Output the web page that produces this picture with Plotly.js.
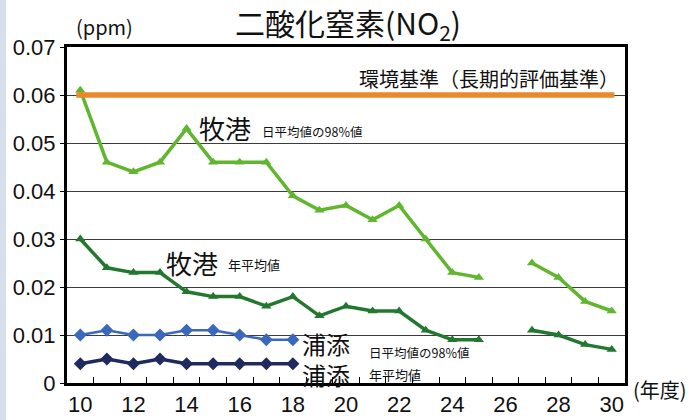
<!DOCTYPE html>
<html>
<head>
<meta charset="utf-8">
<script src="https://cdn.plot.ly/plotly-3.0.1.min.js"></script>
<style>
  html, body { margin: 0; padding: 0; background: #ffffff; }
  #chart { width: 695px; height: 420px; }
</style>
</head>
<body>
<div id="chart"></div>
<script>
// ---- data ----
const years = [10, 11, 12, 13, 14, 15, 16, 17, 18, 19, 20, 21, 22, 23, 24, 25, 26, 27, 28, 29, 30];
const makiminatoDaily98 = [0.061, 0.046, 0.044, 0.046, 0.053, 0.046, 0.046, 0.046, 0.039, 0.036, 0.037, 0.034, 0.037, 0.030, 0.023, 0.022, null, 0.025, 0.022, 0.017, 0.015];
const makiminatoAnnual = [0.030, 0.024, 0.023, 0.023, 0.019, 0.018, 0.018, 0.016, 0.018, 0.014, 0.016, 0.015, 0.015, 0.011, 0.009, 0.009, null, 0.011, 0.010, 0.008, 0.007];
const urasoeYears = [10, 11, 12, 13, 14, 15, 16, 17, 18];
const urasoeDaily98 = [0.010, 0.011, 0.010, 0.010, 0.011, 0.011, 0.010, 0.009, 0.009];
const urasoeAnnual = [0.004, 0.005, 0.004, 0.005, 0.004, 0.004, 0.004, 0.004, 0.004];
const envStandard = 0.06;
const xTickVals = [10, 12, 14, 16, 18, 20, 22, 24, 26, 28, 30];
const xTickText = ['10', '12', '14', '16', '18', '20', '22', '24', '26', '28', '30'];
const yTickVals = [0, 0.01, 0.02, 0.03, 0.04, 0.05, 0.06, 0.07];
const yTickText = ['0', '0.01', '0.02', '0.03', '0.04', '0.05', '0.06', '0.07'];
const halfYearTicks = [10.5, 11.5, 12.5, 13.5, 14.5, 15.5, 16.5, 17.5, 18.5, 19.5, 20.5, 21.5, 22.5, 23.5, 24.5, 25.5, 26.5, 27.5, 28.5, 29.5];

const JP = '"Noto Sans CJK JP", "Noto Sans", sans-serif';
const NUM = '"Liberation Sans", Arial, sans-serif';

const traces = [
  {
    x: years, y: makiminatoDaily98, type: 'scatter', mode: 'lines+markers',
    line: { color: '#60b62e', width: 3.5 },
    marker: { symbol: 'triangle-up', size: 9, color: '#60b62e' },
    connectgaps: false, hoverinfo: 'skip'
  },
  {
    x: years, y: makiminatoAnnual, type: 'scatter', mode: 'lines+markers',
    line: { color: '#23772f', width: 3.5 },
    marker: { symbol: 'triangle-up', size: 9, color: '#23772f' },
    connectgaps: false, hoverinfo: 'skip'
  },
  {
    x: urasoeYears, y: urasoeDaily98, type: 'scatter', mode: 'lines+markers',
    line: { color: '#3a68ba', width: 2.5 },
    marker: { symbol: 'diamond', size: 10, color: '#3a68ba' },
    hoverinfo: 'skip'
  },
  {
    x: urasoeYears, y: urasoeAnnual, type: 'scatter', mode: 'lines+markers',
    line: { color: '#1f2a5e', width: 3.5 },
    marker: { symbol: 'diamond', size: 10, color: '#1f2a5e' },
    hoverinfo: 'skip'
  }
];

const layout = {
  width: 695, height: 420,
  margin: { l: 67, r: 70, t: 47, b: 37, pad: 0 },
  paper_bgcolor: '#ffffff', plot_bgcolor: '#ffffff',
  showlegend: false,
  title: {
    text: '二酸化窒素(NO<sub>2</sub>)',
    font: { family: JP, size: 30, color: '#111111' },
    x: 348 / 695, xanchor: 'center', y: 1 - 24 / 420, yanchor: 'middle'
  },
  xaxis: {
    range: [9.5, 30.5],
    tickmode: 'array', tickvals: xTickVals, ticktext: xTickText,
    ticks: '', showgrid: false, zeroline: false,
    showline: true, linecolor: '#000000', linewidth: 3, mirror: true,
    tickfont: { family: NUM, size: 22, color: '#111111' },
    minor: { tickmode: 'array', tickvals: halfYearTicks, ticks: 'inside', ticklen: 6, tickwidth: 1, tickcolor: '#000000', showgrid: false }
  },
  yaxis: {
    range: [0, 0.07],
    tickmode: 'array', tickvals: yTickVals, ticktext: yTickText,
    ticks: 'outside', ticklen: 4, tickwidth: 1, tickcolor: '#000000',
    showgrid: true, gridcolor: '#3c3c3c', gridwidth: 1,
    zeroline: false,
    showline: true, linecolor: '#000000', linewidth: 3, mirror: true,
    tickfont: { family: NUM, size: 22, color: '#111111' }
  },
  shapes: [
    { type: 'line', xref: 'x', yref: 'y', x0: 9.85, x1: 30.1, y0: envStandard, y1: envStandard,
      line: { color: '#e8892c', width: 5.5 }, layer: 'above' },
    { type: 'rect', xref: 'paper', yref: 'paper', x0: -67 / 558, x1: -61 / 558, y0: -0.2, y1: 1.2,
      fillcolor: '#d6dfec', line: { width: 0 }, layer: 'below' }
  ],
  annotations: [
    { text: '(ppm)', xref: 'paper', yref: 'paper', x: (74 - 67) / 558, y: (383 - 26) / 336,
      xanchor: 'left', yanchor: 'middle', showarrow: false,
      font: { family: JP, size: 20, color: '#111111' } },
    { text: '(年度)', xref: 'paper', yref: 'paper', x: (631 - 67) / 558, y: (383 - 389) / 336,
      xanchor: 'left', yanchor: 'middle', showarrow: false,
      font: { family: JP, size: 20, color: '#111111' } },
    { text: '環境基準（長期的評価基準）', xref: 'x', yref: 'y', x: 30.35, y: 0.0635,
      xanchor: 'right', yanchor: 'middle', showarrow: false,
      font: { family: JP, size: 20, color: '#111111' } },
    { text: '牧港', xref: 'x', yref: 'y', x: 14.4, y: 0.0533,
      xanchor: 'left', yanchor: 'middle', showarrow: false,
      font: { family: JP, size: 26, color: '#111111' } },
    { text: '日平均値の98%値', xref: 'x', yref: 'y', x: 16.78, y: 0.0524,
      xanchor: 'left', yanchor: 'middle', showarrow: false,
      font: { family: JP, size: 12.5, color: '#111111' } },
    { text: '牧港', xref: 'x', yref: 'y', x: 13.15, y: 0.0252,
      xanchor: 'left', yanchor: 'middle', showarrow: false,
      font: { family: JP, size: 26, color: '#111111' } },
    { text: '年平均値', xref: 'x', yref: 'y', x: 15.5, y: 0.0247,
      xanchor: 'left', yanchor: 'middle', showarrow: false,
      font: { family: JP, size: 13, color: '#111111' } },
    { text: '浦添<br>浦添', xref: 'x', yref: 'y', x: 18.28, y: 0.0049,
      xanchor: 'left', yanchor: 'middle', align: 'left', showarrow: false,
      font: { family: JP, size: 24, color: '#111111' } },
    { text: '日平均値の98%値', xref: 'x', yref: 'y', x: 20.78, y: 0.0063,
      xanchor: 'left', yanchor: 'middle', showarrow: false,
      font: { family: JP, size: 12.5, color: '#111111' } },
    { text: '年平均値', xref: 'x', yref: 'y', x: 20.78, y: 0.0017,
      xanchor: 'left', yanchor: 'middle', showarrow: false,
      font: { family: JP, size: 13, color: '#111111' } }
  ]
};

Plotly.newPlot('chart', traces, layout, { staticPlot: true, displayModeBar: false });
</script>
</body>
</html>
